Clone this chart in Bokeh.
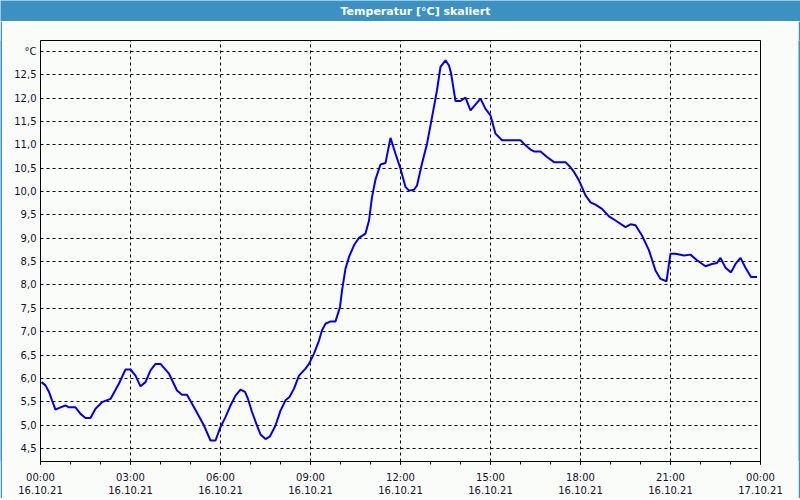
import datetime as dt
from bokeh.plotting import figure
from bokeh.layouts import column, row
from bokeh.models import (Range1d, FixedTicker, DatetimeTickFormatter, CustomJSTickFormatter,
                          ColumnDataSource)
from bokeh.core.properties import value
from bokeh.embed import file_html
from bokeh.resources import INLINE

# ---- data (minutes after 16.10.21 00:00, temperature °C) ----
minutes = [2, 10, 17, 23, 30, 40, 50, 57, 70, 80, 90, 100, 110, 123, 140, 157, 170, 180, 190, 200,
           210, 220, 230, 240, 257, 273, 283, 293, 307, 327, 340, 350, 360, 370, 380, 390, 400, 409,
           415, 423, 433, 440, 450, 459, 470, 480, 490, 498, 507, 517, 530, 537, 547, 557, 563, 570,
           580, 590, 599, 603, 610, 617, 627, 637, 650, 657, 663, 670, 680, 690, 700, 710, 720, 730,
           737, 747, 753, 763, 773, 783, 793, 800, 810, 817, 821, 830, 840, 850, 860, 880, 890, 900,
           910, 923, 960, 970, 980, 987, 1000, 1013, 1027, 1050, 1060, 1067, 1077, 1090, 1100, 1110,
           1123, 1137, 1150, 1170, 1180, 1190, 1203, 1217, 1230, 1240, 1252, 1260, 1270, 1287, 1300,
           1313, 1330, 1343, 1353, 1360, 1370, 1381, 1390, 1400, 1410, 1421, 1433]
temps = [5.92, 5.85, 5.71, 5.53, 5.33, 5.38, 5.42, 5.38, 5.38, 5.24, 5.15, 5.15, 5.35, 5.49, 5.56,
         5.89, 6.19, 6.19, 6.06, 5.83, 5.92, 6.17, 6.31, 6.31, 6.10, 5.74, 5.65, 5.65, 5.38, 4.99,
         4.67, 4.67, 4.96, 5.17, 5.42, 5.63, 5.76, 5.71, 5.56, 5.28, 4.99, 4.80, 4.70, 4.76, 4.99,
         5.31, 5.53, 5.60, 5.78, 6.06, 6.21, 6.31, 6.53, 6.81, 7.03, 7.17, 7.22, 7.22, 7.53, 7.88,
         8.35, 8.60, 8.85, 9.01, 9.10, 9.38, 9.88, 10.26, 10.58, 10.61, 11.15, 10.81, 10.49, 10.10,
         10.02, 10.04, 10.13, 10.60, 11.02, 11.59, 12.17, 12.67, 12.81, 12.70, 12.54, 11.94, 11.94,
         12.01, 11.74, 11.99, 11.77, 11.63, 11.24, 11.10, 11.10, 10.99, 10.90, 10.86, 10.86, 10.74,
         10.63, 10.63, 10.52, 10.42, 10.24, 9.92, 9.77, 9.72, 9.63, 9.47, 9.38, 9.24, 9.30, 9.28,
         9.06, 8.74, 8.31, 8.13, 8.08, 8.67, 8.67, 8.63, 8.65, 8.53, 8.40, 8.45, 8.47, 8.58, 8.37,
         8.27, 8.45, 8.58, 8.37, 8.17, 8.17]

y_ticks = [4.5, 5.0, 5.5, 6.0, 6.5, 7.0, 7.5, 8.0, 8.5, 9.0, 9.5, 10.0, 10.5, 11.0, 11.5, 12.0, 12.5, 13.0]
x_tick_hours = [0, 3, 6, 9, 12, 15, 18, 21, 24]
title_text = "Temperatur [°C] skaliert"
unit_label = "°C"

start = dt.datetime(2021, 10, 16, 0, 0)
times = [start + dt.timedelta(minutes=m) for m in minutes]


def ms(d):
    return (d - dt.datetime(1970, 1, 1)).total_seconds() * 1000.0


BLUE_BAR = "#3c91c3"
BG = "#fafcfa"
TXT = "#10102a"

W, H = 800, 500
BAR_H = 21      # title bar height
EDGE = 2        # blue window edge
MAIN_W = W - 2 * EDGE
MAIN_H = H - BAR_H - EDGE


def strip(w, h):
    f = figure(width=w, height=h, output_backend="svg", toolbar_location=None,
               x_axis_location=None, y_axis_location=None, min_border=0,
               x_range=Range1d(0, w), y_range=Range1d(0, h),
               background_fill_color=BLUE_BAR, border_fill_color=BLUE_BAR)
    f.outline_line_color = None
    f.grid.visible = False
    return f


# ---- title bar ----
bar = strip(W, BAR_H)
bar.text(x=[415], y=[BAR_H / 2], text=[title_text], text_align="center", text_baseline="middle",
         text_color="white", text_font=value("DejaVu Sans"), text_font_style="bold",
         text_font_size="11px")

# ---- main chart ----
p = figure(width=MAIN_W, height=MAIN_H, output_backend="svg", toolbar_location=None,
           x_axis_type="datetime",
           x_range=Range1d(start, start + dt.timedelta(hours=24)),
           y_range=Range1d(4.22, 13.235),
           min_border_left=38, min_border_right=38, min_border_top=19, min_border_bottom=37,
           background_fill_color=BG, border_fill_color=BG)

p.outline_line_color = "black"
p.outline_line_width = 1

src = ColumnDataSource(dict(t=times, v=temps))
p.line("t", "v", source=src, line_color="#0000f0", line_width=2)

xa = p.xaxis[0]
xa.ticker = FixedTicker(ticks=[ms(start + dt.timedelta(hours=h)) for h in x_tick_hours],
                        minor_ticks=[ms(start + dt.timedelta(hours=h)) for h in range(25)])
fmt = "%H:%M\n%d.%m.%y"
xa.formatter = DatetimeTickFormatter(microseconds=fmt, milliseconds=fmt, seconds=fmt, minsec=fmt,
                                     minutes=fmt, hourmin=fmt, hours=fmt, days=fmt, months=fmt, years=fmt,
                                     context=None)
xa.major_label_text_font = "DejaVu Sans"
xa.major_label_text_font_size = "10px"
xa.major_label_text_color = TXT
xa.major_label_standoff = 7
xa.major_tick_in = 0
xa.major_tick_out = 3
xa.minor_tick_in = 0
xa.minor_tick_out = 3
xa.axis_line_color = "black"

ya = p.yaxis[0]
ya.ticker = FixedTicker(ticks=y_ticks)
ya.formatter = CustomJSTickFormatter(code="""
    if (tick > 12.99) { return "%s"; }
    return tick.toFixed(1).replace(".", ",");
""" % unit_label)
ya.major_label_text_font = "DejaVu Sans"
ya.major_label_text_font_size = "10px"
ya.major_label_text_color = TXT
ya.major_label_standoff = 4
ya.major_tick_in = 0
ya.major_tick_out = 0
ya.minor_tick_in = 0
ya.minor_tick_out = 0

for g in (p.xgrid[0], p.ygrid[0]):
    g.grid_line_color = "black"
    g.grid_line_dash = "3 3"
    g.grid_line_width = 1
p.xgrid[0].ticker = xa.ticker
p.ygrid[0].ticker = ya.ticker

layout = column(bar,
                row(strip(EDGE, MAIN_H), p, strip(EDGE, MAIN_H), spacing=0),
                strip(W, EDGE), spacing=0)

open("out.html", "w").write(file_html(layout, INLINE))
